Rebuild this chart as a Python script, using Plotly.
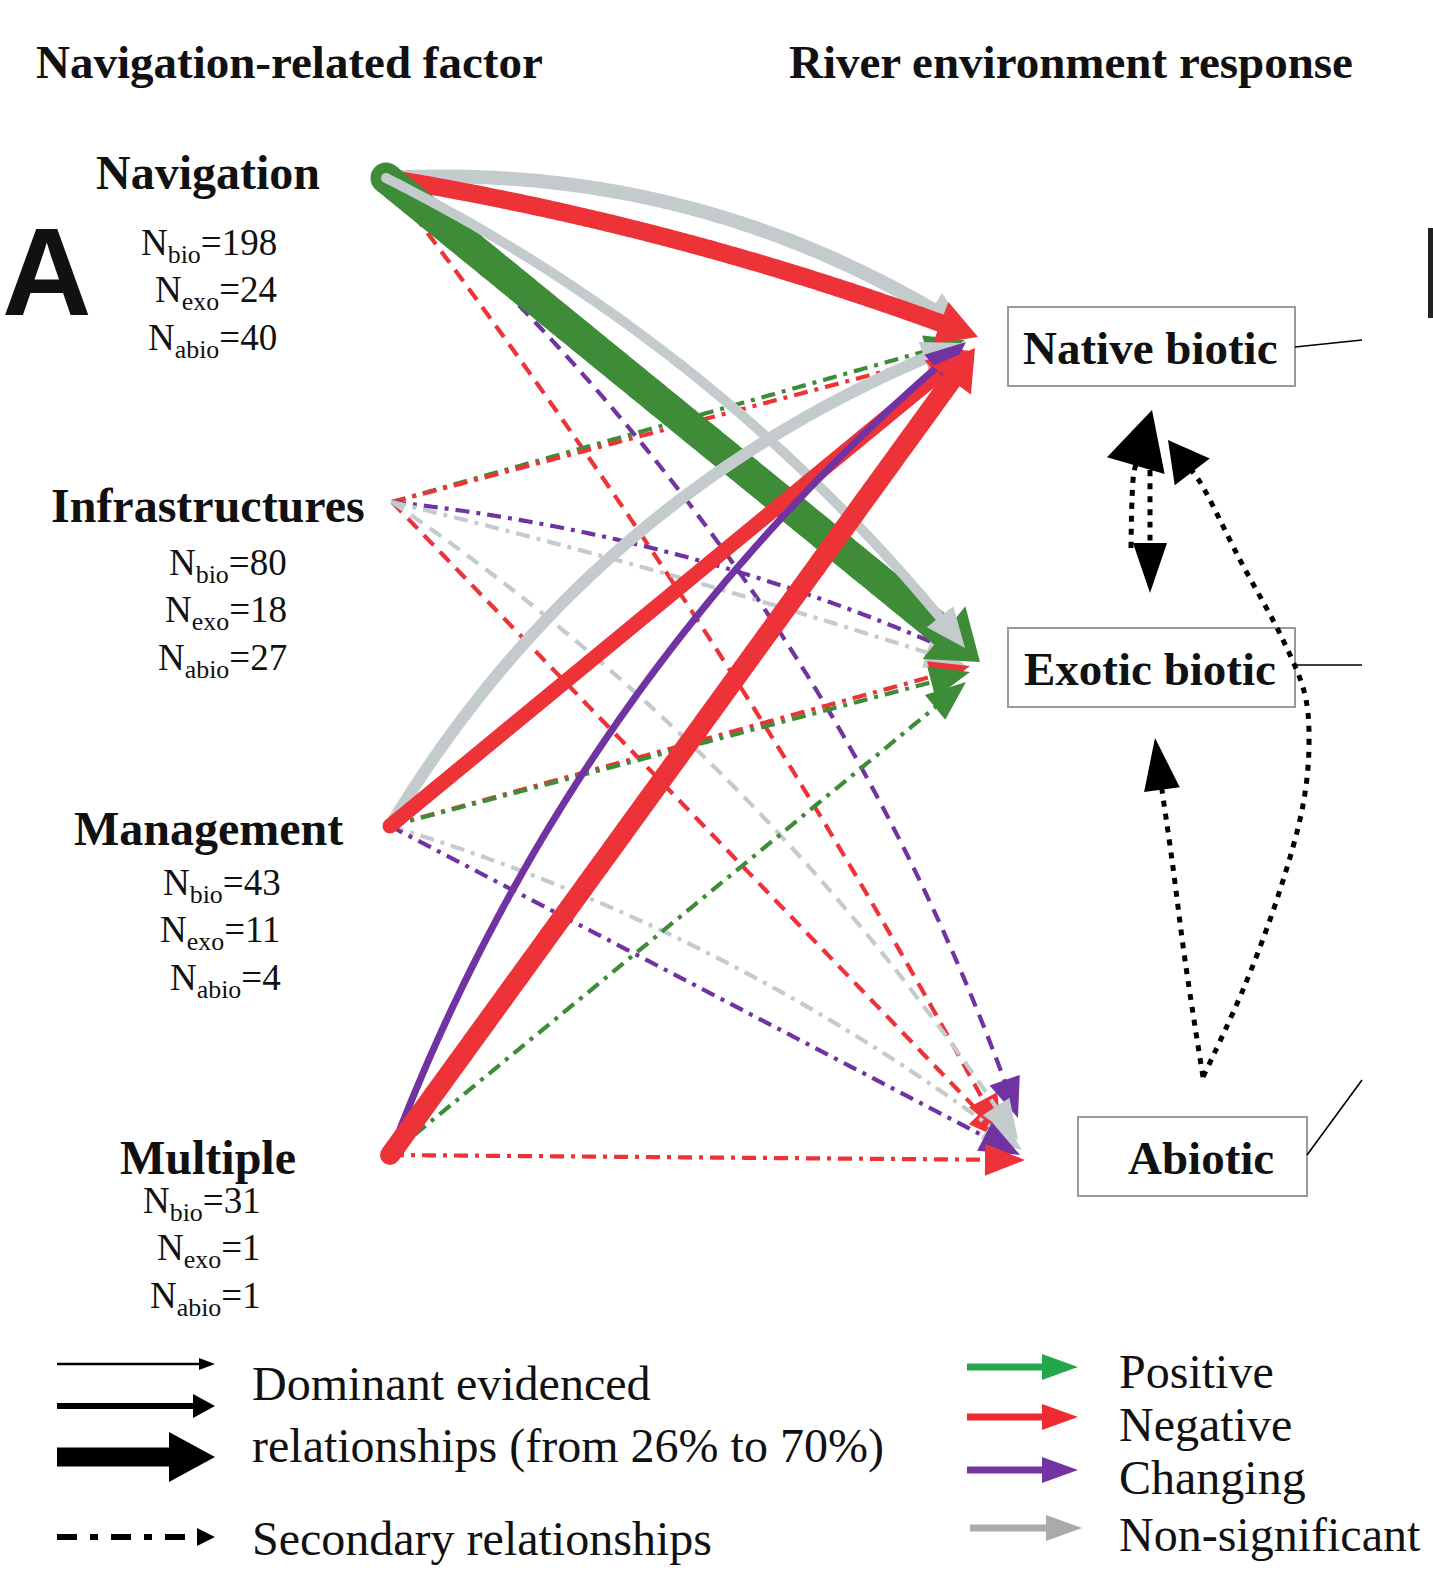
import numpy as np
import plotly.graph_objects as go

# ---------------- data ----------------
factors = ["Navigation", "Infrastructures", "Management", "Multiple"]
n_bio = [198, 80, 43, 31]
n_exo = [24, 18, 11, 1]
n_abio = [40, 27, 4, 1]

responses = ["Native biotic", "Exotic biotic", "Abiotic"]
effects = ["Positive", "Negative", "Changing", "Non-significant"]

# relationships: factor index -> response index, effect, kind
link_source = [0, 0, 0, 0, 0, 0,
               1, 1, 1, 1, 1, 1,
               2, 2, 2, 2, 2, 2,
               3, 3, 3, 3]
link_target = [0, 0, 1, 1, 2, 2,
               0, 0, 1, 1, 2, 2,
               0, 0, 1, 1, 2, 2,
               0, 0, 1, 2]
link_effect = ["Non-significant", "Negative", "Positive", "Non-significant", "Negative", "Changing",
               "Positive", "Negative", "Changing", "Non-significant", "Negative", "Non-significant",
               "Non-significant", "Negative", "Negative", "Positive", "Non-significant", "Changing",
               "Changing", "Negative", "Positive", "Negative"]
link_kind = ["dominant", "dominant", "dominant", "dominant", "secondary", "secondary",
             "secondary", "secondary", "secondary", "secondary", "secondary", "secondary",
             "dominant", "dominant", "secondary", "secondary", "secondary", "secondary",
             "dominant", "dominant", "secondary", "secondary"]

# interactions between responses (from, to)
feedback_from = ["Exotic biotic", "Native biotic", "Abiotic", "Abiotic"]
feedback_to = ["Native biotic", "Exotic biotic", "Exotic biotic", "Native biotic"]

dominant_legend = "Dominant evidenced<br>relationships (from 26% to 70%)"
secondary_legend = "Secondary relationships"

# ---------------- layout / styles ----------------
W, H = 1433, 1570
FONT = "Liberation Serif"

effect_color = {"Positive": "#3e8c37", "Negative": "#ee3338",
                "Changing": "#7132a2", "Non-significant": "#c3cbcc"}
legend_color = {"Positive": "#22a84b", "Negative": "#ee2b2e",
                "Changing": "#7333a3", "Non-significant": "#aaaaaa"}

factor_anchor = [(386, 178), (392, 502), (390, 826), (390, 1155)]

# per-link drawing style: width, bend (sagitta / length), tip position, dash
link_width = [14, 18, 31, 10, 4.2, 4.2,
              4.2, 4.2, 4.2, 4.2, 4.2, 4.2,
              12, 15, 4.2, 4.2, 4.2, 4.2,
              7, 20, 4.2, 4.2]
link_bend = [0.08, 0.025, 0.0, 0.055, 0.02, 0.065,
             0.0, 0.0, 0.04, 0.01, 0.0, 0.05,
             0.085, 0.0, 0.0, 0.0, 0.045, 0.0,
             0.065, 0.0, 0.0, 0.0]
link_tip = [(966, 330), (978, 337), (980, 662), (965, 648), (1002, 1135), (1018, 1118),
            (965, 340), (965, 350), (968, 658), (965, 665), (1008, 1142), (1018, 1140),
            (962, 343), (968, 350), (970, 666), (970, 672), (1022, 1150), (1020, 1155),
            (966, 342), (975, 348), (966, 682), (1025, 1160)]
DASH_LONG = "14px,9px"
DASH_DOT = "14px,7px,4px,7px"
link_dash = ["solid", "solid", "solid", "solid", DASH_LONG, DASH_LONG,
             DASH_DOT, DASH_DOT, DASH_DOT, DASH_DOT, DASH_LONG, DASH_LONG,
             "solid", "solid", DASH_DOT, DASH_DOT, DASH_DOT, DASH_DOT,
             "solid", "solid", DASH_DOT, DASH_DOT]

fig = go.Figure()


def add_poly(pts, color):
    pts = np.asarray(pts, dtype=float)
    fig.add_trace(go.Scatter(x=np.append(pts[:, 0], pts[0, 0]), y=np.append(pts[:, 1], pts[0, 1]),
                             mode="lines", fill="toself", fillcolor=color,
                             line=dict(width=0, color=color), hoverinfo="skip"))


def arrow_path(points, color, width, dash, head_len, head_half, cap=False, smooth=False):
    """Draw a polyline ending in a triangular head; last point is the tip."""
    pts = np.asarray(points, dtype=float)
    tip = pts[-1]
    prev = pts[-2]
    d = tip - prev
    d /= np.linalg.norm(d)
    base = tip - d * head_len
    dist = np.linalg.norm(pts - tip, axis=1)
    body = pts[dist > head_len * 0.92]
    body = np.vstack([body, tip - d * head_len * 0.85])
    fig.add_trace(go.Scatter(x=body[:, 0], y=body[:, 1], mode="lines",
                             line=dict(color=color, width=width, dash=dash, simplify=False,
                                       shape="spline" if smooth else "linear"),
                             hoverinfo="skip"))
    if cap:
        fig.add_trace(go.Scatter(x=[body[0, 0]], y=[body[0, 1]], mode="markers",
                                 marker=dict(size=width, color=color, line=dict(width=0)),
                                 hoverinfo="skip"))
    nrm = np.array([-d[1], d[0]])
    add_poly([tip, base + nrm * head_half, base - nrm * head_half], color)


def bezier(p0, p2, bend, n=120):
    p0 = np.asarray(p0, float)
    p2 = np.asarray(p2, float)
    d = p2 - p0
    L = np.linalg.norm(d)
    nv = np.array([d[1], -d[0]]) / L
    c = (p0 + p2) / 2 + nv * 2 * bend * L
    t = np.linspace(0, 1, n)[:, None]
    return (1 - t) ** 2 * p0 + 2 * (1 - t) * t * c + t ** 2 * p2


# secondary links first, then dominant ones on top
order = [i for i in range(len(link_source)) if link_kind[i] == "secondary"] + \
        [i for i in range(len(link_source)) if link_kind[i] == "dominant"]
for i in order:
    src = factor_anchor[link_source[i]]
    pts = bezier(src, link_tip[i], link_bend[i])
    w = link_width[i]
    col = effect_color[link_effect[i]]
    if link_kind[i] == "dominant":
        hl, hh = max(40, 1.5 * w), max(17, 0.9 * w + 6)
    else:
        hl, hh = 40, 16
    arrow_path(pts, col, w, link_dash[i], hl, hh, cap=(link_kind[i] == "dominant"), smooth=True)

# response boxes
box_rect = {"Native biotic": (1008, 307, 1295, 386),
            "Exotic biotic": (1008, 628, 1295, 707),
            "Abiotic": (1078, 1117, 1307, 1196)}
box_text_x = {"Native biotic": 1150, "Exotic biotic": 1150, "Abiotic": 1201}
box_leader = {"Native biotic": [(1295, 347), (1362, 340)],
              "Exotic biotic": [(1295, 665), (1362, 665)],
              "Abiotic": [(1307, 1155), (1362, 1080)]}
for r in responses:
    x0, y0, x1, y1 = box_rect[r]
    fig.add_shape(type="rect", x0=x0, y0=y0, x1=x1, y1=y1,
                  line=dict(color="#9a9a9a", width=2), fillcolor="white", layer="below")
    fig.add_annotation(x=box_text_x[r], y=(y0 + y1) / 2 + 1, text=f"<b>{r}</b>", showarrow=False,
                       font=dict(family=FONT, size=47, color="#111"), xanchor="center", yanchor="middle")
    (a, b), (c, d) = box_leader[r]
    fig.add_shape(type="line", x0=a, y0=b, x1=c, y1=d, line=dict(color="black", width=1.6))

# feedback arrows between responses (dotted black)
feedback_path = [
    [(1131, 548), (1132, 500), (1134, 472), (1152, 410)],
    [(1150, 470), (1150, 520), (1150, 593)],
    [(1203, 1077), (1185, 960), (1172, 860), (1162, 790), (1155, 738)],
    [(1203, 1077), (1245, 985), (1280, 890), (1303, 805), (1309, 745), (1305, 695),
     (1283, 640), (1240, 560), (1200, 482), (1168, 440)],
]
feedback_head = [(58, 30), (50, 17), (52, 18), (40, 22)]
for pth, (hl, hh) in zip(feedback_path, feedback_head):
    arrow_path(pth, "black", 5, "6px,7px", hl, hh, smooth=True)

# factor labels with sample sizes
title_y = [172, 505, 828, 1157]
n_right = [279, 289, 283, 263]
n_y0 = [245, 565, 885, 1203]
for k, f in enumerate(factors):
    fig.add_annotation(x=208, y=title_y[k], text=f"<b>{f}</b>", showarrow=False,
                       font=dict(family=FONT, size=48, color="#111"), xanchor="center", yanchor="middle")
    lines = [("bio", n_bio[k]), ("exo", n_exo[k]), ("abio", n_abio[k])]
    for j, (sub, val) in enumerate(lines):
        fig.add_annotation(x=n_right[k], y=n_y0[k] + 47.5 * j, text=f"N<sub>{sub}</sub>={val}",
                           showarrow=False, font=dict(family=FONT, size=37, color="#111"),
                           xanchor="right", yanchor="middle")

# column headers
fig.add_annotation(x=289, y=62, text="<b>Navigation-related factor</b>", showarrow=False,
                   font=dict(family=FONT, size=47, color="#111"), xanchor="center", yanchor="middle")
fig.add_annotation(x=1071, y=62, text="<b>River environment response</b>", showarrow=False,
                   font=dict(family=FONT, size=47, color="#111"), xanchor="center", yanchor="middle")

# panel letter
fig.add_annotation(x=0, y=272, text="<b>A</b>", showarrow=False,
                   font=dict(family="Liberation Sans", size=124, color="#111"),
                   xanchor="left", yanchor="middle")
fig.add_shape(type="rect", x0=1428, y0=228, x1=1434, y1=318, line=dict(width=0), fillcolor="#222")

# legend: width / relationship type
arrow_path([(57, 1364), (215, 1364)], "black", 2.5, "solid", 16, 6)
arrow_path([(57, 1406), (215, 1406)], "black", 6, "solid", 22, 12)
arrow_path([(57, 1457), (215, 1457)], "black", 19, "solid", 46, 25)
arrow_path([(57, 1537), (215, 1537)], "black", 6, "20px,13px,8px,13px", 18, 9)
fig.add_annotation(x=250, y=1415, text=dominant_legend, showarrow=False, align="left",
                   font=dict(family=FONT, size=48, color="#111"), xanchor="left", yanchor="middle")
fig.add_annotation(x=250, y=1538, text=secondary_legend, showarrow=False, align="left",
                   font=dict(family=FONT, size=48, color="#111"), xanchor="left", yanchor="middle")

# legend: effect colours
legend_y = [1367, 1417, 1470, 1528]
legend_text_y = [1371, 1424, 1477, 1534]
for e, ly, ty in zip(effects, legend_y, legend_text_y):
    x0 = 970 if e == "Non-significant" else 967
    x1 = 1082 if e == "Non-significant" else 1078
    arrow_path([(x0, ly), (x1, ly)], legend_color[e], 7, "solid", 36, 13)
    fig.add_annotation(x=1117, y=ty, text=e, showarrow=False,
                       font=dict(family=FONT, size=48, color="#111"), xanchor="left", yanchor="middle")

fig.update_layout(
    width=W, height=H, margin=dict(l=0, r=0, t=0, b=0),
    paper_bgcolor="white", plot_bgcolor="white", showlegend=False,
    xaxis=dict(range=[0, W], visible=False, fixedrange=True),
    yaxis=dict(range=[H, 0], visible=False, fixedrange=True),
)
fig.write_html("out.html")
